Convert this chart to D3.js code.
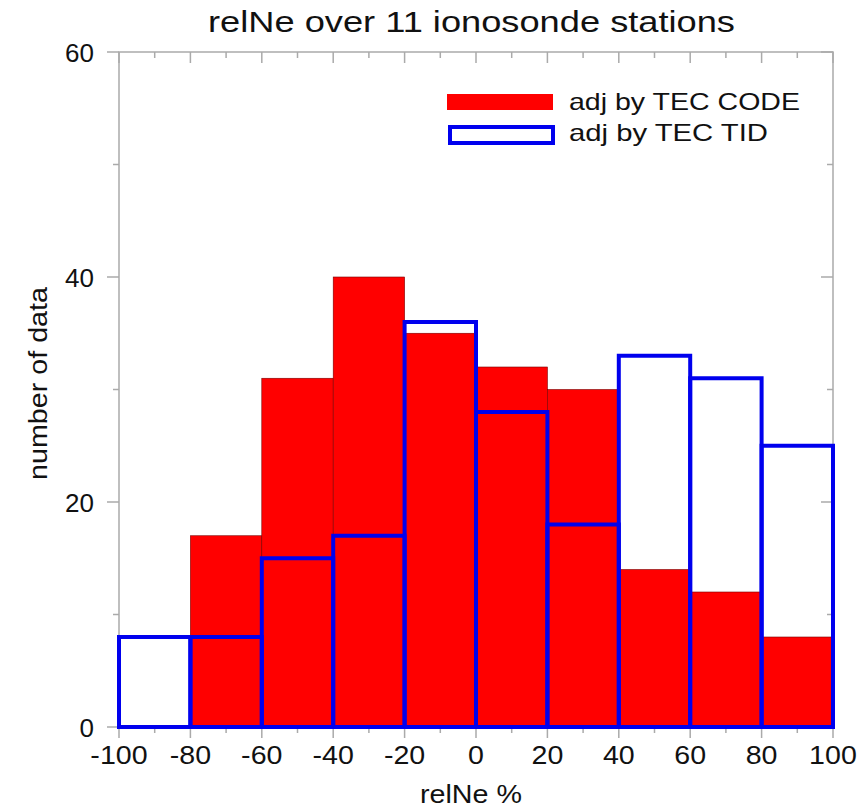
<!DOCTYPE html>
<html><head><meta charset="utf-8">
<script src="https://cdn.jsdelivr.net/npm/d3@7"></script>
<style>body{margin:0;background:#fff}svg{display:block}text{font-family:"Liberation Sans",Arial,sans-serif;fill:#111}</style>
</head><body>
<svg id="c" width="861" height="809"></svg>
<script>
const binStarts = [-100,-80,-60,-40,-20,0,20,40,60,80];
const binWidth = 20;
const codeCounts = [0,17,31,40,35,32,30,14,12,8];
const tidCounts = [8,8,15,17,36,28,18,33,31,25];
const xTicks = [-100,-80,-60,-40,-20,0,20,40,60,80,100];
const yTicks = [0,20,40,60];
const minorX = [-90,-70,-50,-30,-10,10,30,50,70,90];
const minorY = [10,30,50];
const title = "relNe over 11 ionosonde stations";
const xLabel = "relNe %";
const yLabel = "number of data";
const legendLabels = ["adj by TEC CODE","adj by TEC TID"];

const L=119,R=833,T=52,B=727;
const x=d3.scaleLinear().domain([-100,100]).range([L,R]);
const y=d3.scaleLinear().domain([0,60]).range([B,T]);
const svg=d3.select("#c");
const gray="#aaaaaa";

// red bars
svg.append("g").selectAll("rect").data(binStarts).join("rect")
 .attr("x",d=>x(d)).attr("width",d=>x(d+binWidth)-x(d))
 .attr("y",(d,i)=>y(codeCounts[i])).attr("height",(d,i)=>y(0)-y(codeCounts[i]))
 .attr("fill","#ff0000").attr("stroke","#7a0000").attr("stroke-width",0.6);

// frame
svg.append("rect").attr("x",L).attr("y",T).attr("width",R-L).attr("height",B-T)
 .attr("fill","none").attr("stroke",gray).attr("stroke-width",1.5);

// ticks
const tk=svg.append("g").attr("stroke",gray).attr("stroke-width",1.5);
xTicks.forEach(v=>{
  tk.append("line").attr("x1",x(v)).attr("x2",x(v)).attr("y1",B).attr("y2",B+11);
  tk.append("line").attr("x1",x(v)).attr("x2",x(v)).attr("y1",T).attr("y2",T+11);
});
minorX.forEach(v=>{
  tk.append("line").attr("x1",x(v)).attr("x2",x(v)).attr("y1",B).attr("y2",B+6);
  tk.append("line").attr("x1",x(v)).attr("x2",x(v)).attr("y1",T).attr("y2",T+6);
});
yTicks.forEach(v=>{
  tk.append("line").attr("x1",L-12).attr("x2",L).attr("y1",y(v)).attr("y2",y(v));
  tk.append("line").attr("x1",R-12).attr("x2",R).attr("y1",y(v)).attr("y2",y(v));
});
minorY.forEach(v=>{
  tk.append("line").attr("x1",L-6).attr("x2",L).attr("y1",y(v)).attr("y2",y(v));
  tk.append("line").attr("x1",R-6).attr("x2",R).attr("y1",y(v)).attr("y2",y(v));
});

// blue outline bars
svg.append("g").selectAll("rect").data(binStarts).join("rect")
 .attr("x",d=>x(d)).attr("width",d=>x(d+binWidth)-x(d))
 .attr("y",(d,i)=>y(tidCounts[i])).attr("height",(d,i)=>y(0)-y(tidCounts[i]))
 .attr("fill","none").attr("stroke","#0000ee").attr("stroke-width",4);

function stretch(sel,k){ sel.each(function(){ const w=this.getComputedTextLength(); this.setAttribute("textLength",w*k); this.setAttribute("lengthAdjust","spacingAndGlyphs"); }); }

// tick labels
svg.append("g").selectAll("text").data(xTicks).join("text")
 .attr("x",d=>x(d)).attr("y",764).attr("text-anchor","middle")
 .attr("font-size",26).text(d=>d).call(stretch,1.1);
svg.append("g").selectAll("text").data(yTicks).join("text")
 .attr("x",94).attr("y",d=>y(d)+9.5).attr("text-anchor","end")
 .attr("font-size",26).text(d=>d);

// titles
svg.append("text").attr("x",208).attr("y",32).attr("font-size",30)
 .attr("textLength",527).attr("lengthAdjust","spacingAndGlyphs").text(title);
svg.append("text").attr("x",420).attr("y",803).attr("font-size",26)
 .attr("textLength",102).attr("lengthAdjust","spacingAndGlyphs").text(xLabel);
svg.append("text").attr("transform","translate(47,480) rotate(-90)").attr("font-size",26)
 .attr("textLength",193).attr("lengthAdjust","spacingAndGlyphs").text(yLabel);

// legend
svg.append("rect").attr("x",447).attr("y",94).attr("width",106).attr("height",16).attr("fill","#ff0000");
svg.append("rect").attr("x",450).attr("y",127).attr("width",103).attr("height",16).attr("fill","none").attr("stroke","#0000ee").attr("stroke-width",4);
svg.append("text").attr("x",569).attr("y",110).attr("font-size",24)
 .attr("textLength",231).attr("lengthAdjust","spacingAndGlyphs").text(legendLabels[0]);
svg.append("text").attr("x",569).attr("y",141).attr("font-size",24)
 .attr("textLength",199).attr("lengthAdjust","spacingAndGlyphs").text(legendLabels[1]);
</script>
</body></html>
